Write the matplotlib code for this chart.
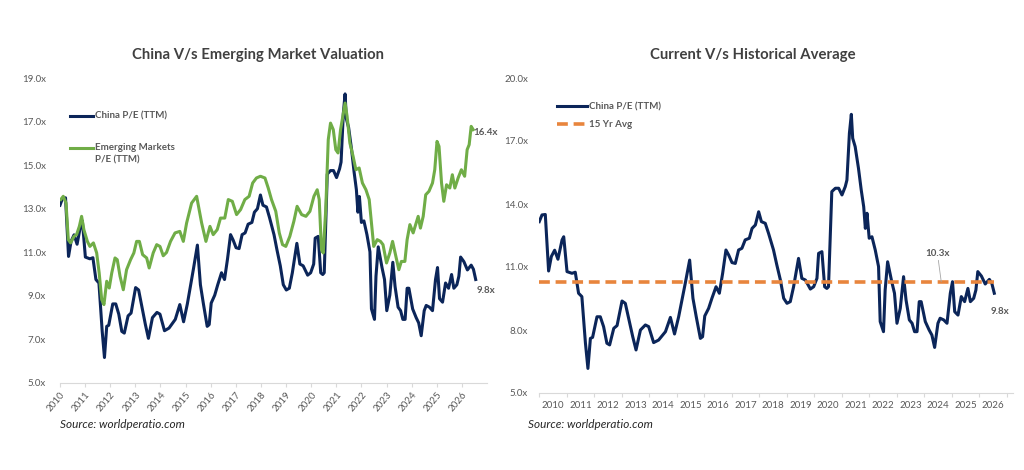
import matplotlib
matplotlib.use('Agg')
import matplotlib.pyplot as plt
from matplotlib.lines import Line2D

plt.rcParams['font.family'] = ['Lato', 'DejaVu Sans']

# China P/E (TTM), decimal year / value
china_years = [2010.00, 2010.10, 2010.22, 2010.34, 2010.44, 2010.56, 2010.68, 2010.83, 2010.89, 2011.01,
               2011.19, 2011.31, 2011.43, 2011.55, 2011.68, 2011.77, 2011.86, 2011.94, 2012.10, 2012.22,
               2012.34, 2012.46, 2012.56, 2012.71, 2012.83, 2013.01, 2013.13, 2013.28, 2013.40, 2013.52,
               2013.68, 2013.86, 2013.98, 2014.16, 2014.34, 2014.59, 2014.77, 2014.92, 2015.07, 2015.31,
               2015.47, 2015.59, 2015.71, 2015.86, 2015.94, 2016.02, 2016.16, 2016.28, 2016.43, 2016.55,
               2016.67, 2016.79, 2016.89, 2017.01, 2017.13, 2017.25, 2017.37, 2017.49, 2017.64, 2017.74,
               2017.86, 2017.98, 2018.08, 2018.22, 2018.34, 2018.52, 2018.64, 2018.77, 2018.89, 2019.01,
               2019.13, 2019.25, 2019.43, 2019.55, 2019.68, 2019.86, 2019.98, 2020.10, 2020.16, 2020.28,
               2020.38, 2020.46, 2020.52, 2020.64, 2020.77, 2020.89, 2021.01, 2021.13, 2021.19, 2021.28,
               2021.35, 2021.40, 2021.49, 2021.61, 2021.71, 2021.80, 2021.86, 2021.92, 2022.00, 2022.10,
               2022.22, 2022.34, 2022.40, 2022.52, 2022.58, 2022.67, 2022.82, 2022.92, 2023.01, 2023.13,
               2023.25, 2023.34, 2023.46, 2023.56, 2023.65, 2023.74, 2023.82, 2023.89, 2024.04, 2024.18,
               2024.28, 2024.38, 2024.50, 2024.58, 2024.71, 2024.83, 2024.95, 2025.03, 2025.11, 2025.23,
               2025.35, 2025.47, 2025.59, 2025.68, 2025.80, 2025.88, 2025.95, 2026.08, 2026.22, 2026.37,
               2026.46, 2026.55]
china_pe = [13.16, 13.48, 13.50, 10.81, 11.50, 11.80, 11.37, 12.29, 12.44, 10.78,
            10.70, 10.75, 9.75, 9.59, 7.37, 6.17, 7.60, 7.65, 8.63, 8.63,
            8.16, 7.37, 7.29, 8.08, 8.21, 9.38, 9.27, 8.40, 7.68, 7.05,
            8.00, 8.24, 8.16, 7.40, 7.52, 7.92, 8.60, 7.81, 8.63, 10.22,
            11.33, 9.51, 8.63, 7.60, 7.68, 8.67, 9.03, 9.51, 10.06, 9.75,
            10.70, 11.81, 11.57, 11.21, 11.17, 11.81, 11.89, 12.29, 12.37, 12.84,
            13.00, 13.63, 13.16, 13.08, 12.60, 11.81, 11.10, 10.38, 9.51, 9.27,
            9.35, 10.06, 11.41, 10.46, 10.38, 9.95, 10.06, 10.46, 11.65, 11.73,
            10.06, 9.98, 10.06, 14.59, 14.75, 14.75, 14.43, 14.83, 15.14, 17.37,
            18.27, 17.13, 16.73, 15.70, 14.67, 13.87, 12.84, 13.56, 12.37, 12.44,
            11.81, 11.02, 8.40, 7.92, 9.90, 11.25, 10.30, 9.75, 8.32, 9.03,
            10.54, 9.43, 8.48, 8.32, 7.92, 7.92, 9.35, 9.35, 8.40, 8.00,
            7.76, 7.17, 8.32, 8.56, 8.48, 8.32, 9.75, 10.30, 8.87, 8.71,
            9.59, 9.35, 9.98, 9.35, 9.51, 9.90, 10.78, 10.57, 10.19, 10.41,
            10.22, 9.75]

# Emerging Markets P/E (TTM)
em_years = [2010.03, 2010.13, 2010.24, 2010.33, 2010.42, 2010.56, 2010.66, 2010.77, 2010.86, 2010.95,
            2011.09, 2011.19, 2011.33, 2011.46, 2011.56, 2011.66, 2011.75, 2011.86, 2011.96, 2012.06,
            2012.19, 2012.28, 2012.39, 2012.52, 2012.65, 2012.81, 2012.94, 2013.05, 2013.16, 2013.29,
            2013.45, 2013.55, 2013.71, 2013.85, 2013.98, 2014.11, 2014.24, 2014.40, 2014.58, 2014.77,
            2014.91, 2015.04, 2015.24, 2015.44, 2015.64, 2015.81, 2015.97, 2016.10, 2016.26, 2016.39,
            2016.56, 2016.70, 2016.86, 2017.03, 2017.19, 2017.36, 2017.53, 2017.67, 2017.82, 2017.98,
            2018.16, 2018.29, 2018.42, 2018.59, 2018.73, 2018.86, 2018.99, 2019.15, 2019.31, 2019.44,
            2019.62, 2019.79, 2019.95, 2020.11, 2020.24, 2020.32, 2020.41, 2020.48, 2020.58, 2020.68,
            2020.77, 2020.88, 2020.98, 2021.07, 2021.17, 2021.27, 2021.35, 2021.43, 2021.54, 2021.67,
            2021.78, 2021.91, 2022.04, 2022.18, 2022.31, 2022.40, 2022.49, 2022.63, 2022.76, 2022.86,
            2023.00, 2023.13, 2023.24, 2023.37, 2023.49, 2023.59, 2023.73, 2023.82, 2023.93, 2024.06,
            2024.16, 2024.26, 2024.35, 2024.46, 2024.56, 2024.69, 2024.83, 2024.92, 2025.01, 2025.09,
            2025.19, 2025.28, 2025.39, 2025.52, 2025.62, 2025.72, 2025.85, 2025.98, 2026.11, 2026.21,
            2026.29, 2026.37, 2026.45]
em_pe = [13.42, 13.57, 13.26, 11.58, 11.43, 11.73, 11.81, 12.19, 12.65, 12.04,
         11.50, 11.27, 11.43, 10.97, 10.05, 8.83, 8.60, 9.67, 9.36, 10.05,
         10.74, 10.66, 9.90, 9.28, 10.20, 10.66, 10.97, 11.50, 11.50, 10.89,
         10.74, 10.28, 10.97, 11.35, 11.27, 10.84, 10.99, 11.50, 11.89, 11.96,
         11.50, 12.34, 13.26, 13.57, 12.34, 11.50, 12.19, 11.81, 12.04, 12.57,
         12.57, 13.42, 13.34, 12.73, 12.96, 13.42, 13.57, 14.18, 14.41, 14.49,
         14.41, 13.95, 13.42, 12.88, 11.89, 11.35, 11.27, 11.73, 12.42, 13.11,
         12.73, 12.65, 12.88, 13.57, 13.87, 13.42, 11.12, 10.97, 12.96, 16.17,
         16.93, 16.63, 15.71, 15.56, 16.63, 17.32, 17.85, 17.24, 16.02, 15.40,
         14.79, 14.87, 14.18, 13.87, 13.42, 12.34, 11.27, 11.58, 11.50, 11.35,
         10.51, 10.97, 11.50, 10.82, 10.20, 10.58, 10.58, 11.58, 12.27, 11.89,
         12.27, 12.65, 12.11, 12.65, 13.64, 13.80, 14.18, 14.79, 16.09, 15.86,
         14.18, 13.34, 14.10, 13.95, 14.56, 13.95, 14.41, 14.79, 14.49, 15.71,
         15.94, 16.78, 16.63]

avg_15yr = 10.3
year_labels = [str(y) for y in range(2010, 2027)]

navy = '#0B2559'
green = '#70AD47'
orange = '#E8853D'
grey_txt = '#595959'
axis_col = '#D9D9D9'

fig = plt.figure(figsize=(10.24, 4.70), dpi=100)

#%% left chart
ax1 = fig.add_axes([60/1024, 1-383/470, 427/1024, 305/470])
ax1.plot(china_years, china_pe, color=navy, lw=2.2, solid_joinstyle='round')
ax1.plot(em_years, em_pe, color=green, lw=2.2, solid_joinstyle='round')
ax1.set_xlim(2010, 2027.0)
ax1.set_ylim(5, 19)
ax1.set_yticks(range(5, 20, 2))
ax1.set_yticklabels([f'{v:.1f}x' for v in range(5, 20, 2)])
ax1.set_xticks(range(2010, 2027))
ax1.set_xticklabels(year_labels, rotation=50, ha='right', va='top', rotation_mode='anchor')
for s in ['top', 'right', 'left']:
    ax1.spines[s].set_visible(False)
ax1.spines['bottom'].set_color(axis_col)
ax1.tick_params(axis='y', length=0, pad=10, labelsize=7, labelcolor=grey_txt)
ax1.tick_params(axis='x', length=3, color=axis_col, labelsize=7, labelcolor=grey_txt, pad=2)
ax1.annotate('16.4x', xy=(em_years[-1], em_pe[-1]),
             xytext=(0, -4), textcoords='offset points', fontsize=7, fontweight='bold', color=grey_txt)
ax1.annotate('9.8x', xy=(china_years[-1], china_pe[-1]), xytext=(1, -10),
             textcoords='offset points', fontsize=7, fontweight='bold', color=grey_txt)

# hand-built legend (handle sits on the first text line, as in the original)
ax1.add_line(Line2D([0.023, 0.078], [0.877, 0.877], transform=ax1.transAxes, color=navy, lw=2.2))
ax1.text(0.082, 0.877, 'China P/E (TTM)', transform=ax1.transAxes, fontsize=7,
         fontweight='bold', color=grey_txt, va='center')
ax1.add_line(Line2D([0.023, 0.078], [0.772, 0.772], transform=ax1.transAxes, color=green, lw=2.2))
ax1.text(0.082, 0.772, 'Emerging Markets', transform=ax1.transAxes, fontsize=7,
         fontweight='bold', color=grey_txt, va='center')
ax1.text(0.082, 0.730, 'P/E (TTM)', transform=ax1.transAxes, fontsize=7,
         fontweight='bold', color=grey_txt, va='center')

#%% right chart
ax2 = fig.add_axes([539.25/1024, 1-393/470, (1013-539.25)/1024, 315/470])
ax2.plot(china_years, china_pe, color=navy, lw=2.2, solid_joinstyle='round')
ax2.plot([2010, china_years[-1]], [avg_15yr, avg_15yr], color=orange, lw=2.6, ls=(0, (3, 1.6)))
ax2.set_xlim(2010, 2027.23)
ax2.set_ylim(5, 20)
ax2.set_yticks(range(5, 21, 3))
ax2.set_yticklabels([f'{v:.1f}x' for v in range(5, 21, 3)])
ax2.set_xticks(range(2010, 2028))
ax2.set_xticklabels([])
ax2.set_xticks([y + 0.5 for y in range(2010, 2027)], minor=True)
ax2.set_xticklabels(year_labels, minor=True)
for s in ['top', 'right', 'left']:
    ax2.spines[s].set_visible(False)
ax2.spines['bottom'].set_color(axis_col)
ax2.tick_params(axis='y', length=0, pad=8, labelsize=7, labelcolor=grey_txt)
ax2.tick_params(axis='x', which='major', length=3, color=axis_col)
ax2.tick_params(axis='x', which='minor', length=0, labelsize=7, labelcolor=grey_txt, pad=6)
ax2.annotate('10.3x', xy=(2024.62, avg_15yr), xytext=(2024.48, 11.45), ha='center', va='bottom',
             fontsize=7, fontweight='bold', color=grey_txt,
             arrowprops=dict(arrowstyle='-', color='#A6A6A6', lw=0.6, shrinkA=0, shrinkB=0))
ax2.annotate('9.8x', xy=(china_years[-1], china_pe[-1]), xytext=(-3, -15),
             textcoords='offset points', fontsize=7, fontweight='bold', color=grey_txt)
leg2 = ax2.legend([Line2D([], [], color=navy, lw=2.2),
                   Line2D([], [], color=orange, lw=2.6, ls=(0, (3, 1.6)))],
                  ['China P/E (TTM)', '15 Yr Avg'],
                  loc='upper left', bbox_to_anchor=(0.02, 0.95), frameon=False, fontsize=7,
                  handlelength=3.0, handletextpad=0.2, labelspacing=0.9, labelcolor=grey_txt)
for t in leg2.get_texts():
    t.set_fontweight('bold')

# titles and source notes
fig.text(258/1024, 1-55/470, 'China V/s Emerging Market Valuation', fontsize=10.7,
         fontweight='bold', color='#404040', ha='center', va='center')
fig.text(753/1024, 1-55/470, 'Current V/s Historical Average', fontsize=10.7,
         fontweight='bold', color='#404040', ha='center', va='center')
fig.text(60/1024, 1-424/470, 'Source: worldperatio.com', fontsize=8.5, style='italic',
         color='#262626', va='center')
fig.text(528/1024, 1-424/470, 'Source: worldperatio.com', fontsize=8.5, style='italic',
         color='#262626', va='center')

fig.savefig('out.png', dpi=100)
